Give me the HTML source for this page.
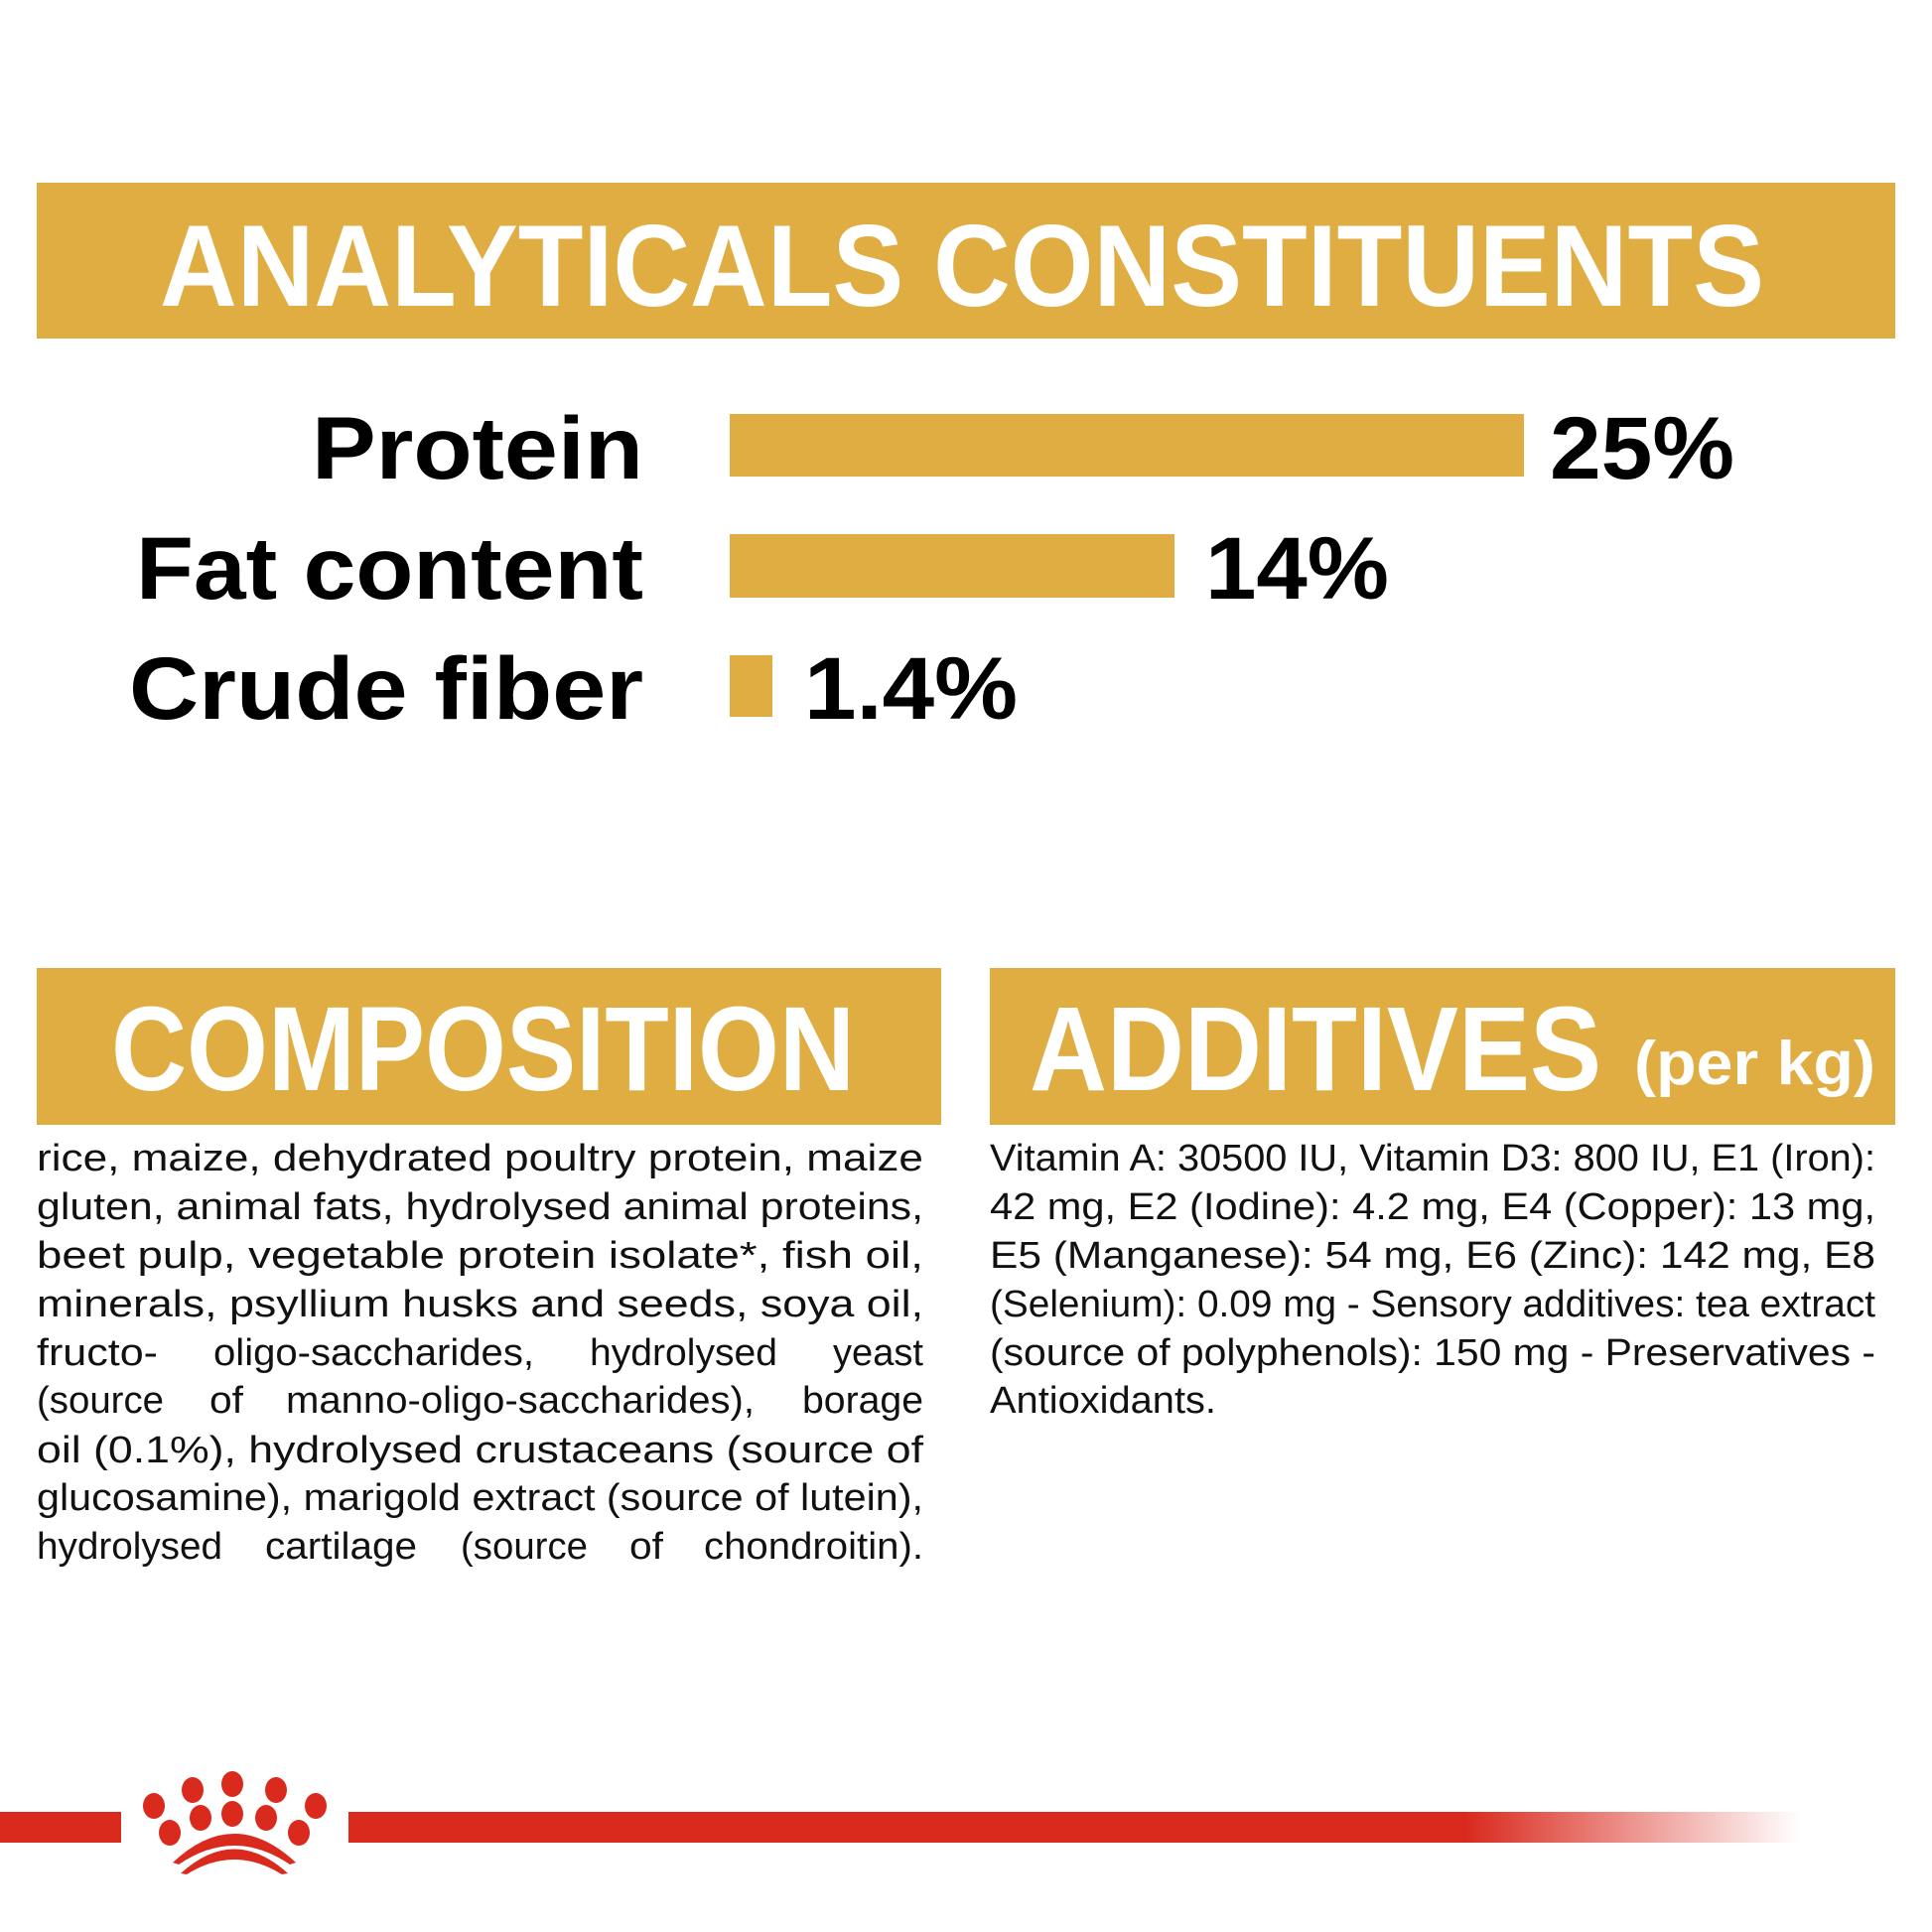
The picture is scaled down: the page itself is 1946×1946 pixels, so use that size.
<!DOCTYPE html>
<html><head><meta charset="utf-8"><style>
html,body{margin:0;padding:0;background:#fff;}
svg{display:block;}
text{font-family:"Liberation Sans",sans-serif;}
</style></head><body>
<svg width="1946" height="1946" viewBox="0 0 1946 1946" xmlns="http://www.w3.org/2000/svg">
<defs>
<linearGradient id="fade" x1="0" x2="1" y1="0" y2="0">
<stop offset="0" stop-color="#da2a1e" stop-opacity="1"/>
<stop offset="1" stop-color="#da2a1e" stop-opacity="0"/>
</linearGradient>
</defs>
<rect width="1946" height="1946" fill="#fff"/>
<rect x="37" y="184" width="1872" height="157" fill="#dfad42"/>
<text x="161" y="308" font-size="117" font-weight="bold" fill="#fff" textLength="1616" lengthAdjust="spacingAndGlyphs">ANALYTICALS CONSTITUENTS</text>
<g font-weight="bold" font-size="89" fill="#000">
<text x="314" y="482" textLength="334" lengthAdjust="spacingAndGlyphs">Protein</text>
<text x="137" y="603" textLength="511" lengthAdjust="spacingAndGlyphs">Fat content</text>
<text x="130" y="724" textLength="518" lengthAdjust="spacingAndGlyphs">Crude fiber</text>
<text x="1561" y="482" textLength="186" lengthAdjust="spacingAndGlyphs">25%</text>
<text x="1214" y="603" textLength="185" lengthAdjust="spacingAndGlyphs">14%</text>
<text x="810" y="724" textLength="215" lengthAdjust="spacingAndGlyphs">1.4%</text>
</g>
<rect x="735" y="417" width="800" height="63" fill="#dfad42"/>
<rect x="735" y="538" width="448" height="64" fill="#dfad42"/>
<rect x="735" y="660" width="43" height="62" fill="#dfad42"/>
<rect x="37" y="975" width="911" height="158" fill="#dfad42"/>
<rect x="997" y="975" width="912" height="158" fill="#dfad42"/>
<text x="112" y="1098" font-size="121" font-weight="bold" fill="#fff" textLength="749" lengthAdjust="spacingAndGlyphs">COMPOSITION</text>
<text x="1037" y="1098" font-size="121" font-weight="bold" fill="#fff" textLength="576" lengthAdjust="spacingAndGlyphs">ADDITIVES</text>
<text x="1646" y="1092" font-size="62" font-weight="bold" fill="#fff" textLength="243" lengthAdjust="spacingAndGlyphs">(per kg)</text>
<g font-size="38" fill="#111">
<text x="37" y="1179" textLength="893" lengthAdjust="spacingAndGlyphs">rice, maize, dehydrated poultry protein, maize</text>
<text x="37" y="1228" textLength="893" lengthAdjust="spacingAndGlyphs">gluten, animal fats, hydrolysed animal proteins,</text>
<text x="37" y="1277" textLength="893" lengthAdjust="spacingAndGlyphs">beet pulp, vegetable protein isolate*, fish oil,</text>
<text x="37" y="1326" textLength="893" lengthAdjust="spacingAndGlyphs">minerals, psyllium husks and seeds, soya oil,</text>
<text x="37" y="1375" textLength="122" lengthAdjust="spacingAndGlyphs">fructo-</text>
<text x="215" y="1375" textLength="323" lengthAdjust="spacingAndGlyphs">oligo-saccharides,</text>
<text x="594" y="1375" textLength="189" lengthAdjust="spacingAndGlyphs">hydrolysed</text>
<text x="839" y="1375" textLength="91" lengthAdjust="spacingAndGlyphs">yeast</text>
<text x="37" y="1423" textLength="128" lengthAdjust="spacingAndGlyphs">(source</text>
<text x="211" y="1423" textLength="34" lengthAdjust="spacingAndGlyphs">of</text>
<text x="288" y="1423" textLength="472" lengthAdjust="spacingAndGlyphs">manno-oligo-saccharides),</text>
<text x="808" y="1423" textLength="122" lengthAdjust="spacingAndGlyphs">borage</text>
<text x="37" y="1473" textLength="893" lengthAdjust="spacingAndGlyphs">oil (0.1%), hydrolysed crustaceans (source of</text>
<text x="37" y="1521" textLength="893" lengthAdjust="spacingAndGlyphs">glucosamine), marigold extract (source of lutein),</text>
<text x="37" y="1570" textLength="187" lengthAdjust="spacingAndGlyphs">hydrolysed</text>
<text x="267" y="1570" textLength="153" lengthAdjust="spacingAndGlyphs">cartilage</text>
<text x="464" y="1570" textLength="128" lengthAdjust="spacingAndGlyphs">(source</text>
<text x="634" y="1570" textLength="34" lengthAdjust="spacingAndGlyphs">of</text>
<text x="709" y="1570" textLength="221" lengthAdjust="spacingAndGlyphs">chondroitin).</text>

<text x="997" y="1179" textLength="892" lengthAdjust="spacingAndGlyphs">Vitamin A: 30500 IU, Vitamin D3: 800 IU, E1 (Iron):</text>
<text x="997" y="1228" textLength="892" lengthAdjust="spacingAndGlyphs">42 mg, E2 (Iodine): 4.2 mg, E4 (Copper): 13 mg,</text>
<text x="997" y="1277" textLength="892" lengthAdjust="spacingAndGlyphs">E5 (Manganese): 54 mg, E6 (Zinc): 142 mg, E8</text>
<text x="997" y="1326" textLength="892" lengthAdjust="spacingAndGlyphs">(Selenium): 0.09 mg - Sensory additives: tea extract</text>
<text x="997" y="1375" textLength="892" lengthAdjust="spacingAndGlyphs">(source of polyphenols): 150 mg - Preservatives -</text>
<text x="997" y="1423" textLength="228" lengthAdjust="spacingAndGlyphs">Antioxidants.</text>
</g>
<rect x="0" y="1825" width="122" height="31" fill="#da2a1e"/>
<rect x="351" y="1825" width="1127" height="31" fill="#da2a1e"/>
<rect x="1477" y="1825" width="336" height="31" fill="url(#fade)"/>
<g fill="#da2a1e">
<ellipse cx="194" cy="1803" rx="11" ry="13"/>
<ellipse cx="234" cy="1797" rx="11" ry="13"/>
<ellipse cx="278" cy="1803" rx="11" ry="13"/>
<ellipse cx="155" cy="1819" rx="11" ry="13"/>
<ellipse cx="318" cy="1819" rx="11" ry="13"/>
<ellipse cx="202" cy="1831" rx="11" ry="13"/>
<ellipse cx="234" cy="1827" rx="11" ry="13"/>
<ellipse cx="268" cy="1831" rx="11" ry="13"/>
<ellipse cx="171" cy="1846" rx="11" ry="13"/>
<ellipse cx="301" cy="1846" rx="11" ry="13"/>
<path d="M174 1876 Q236 1818 298 1876 L292 1878 Q236 1840 180 1878 Z"/>
<path d="M182 1887 Q236 1838 290 1887 L284 1888 Q236 1858 188 1888 Z"/>
</g>
</svg>
</body></html>
